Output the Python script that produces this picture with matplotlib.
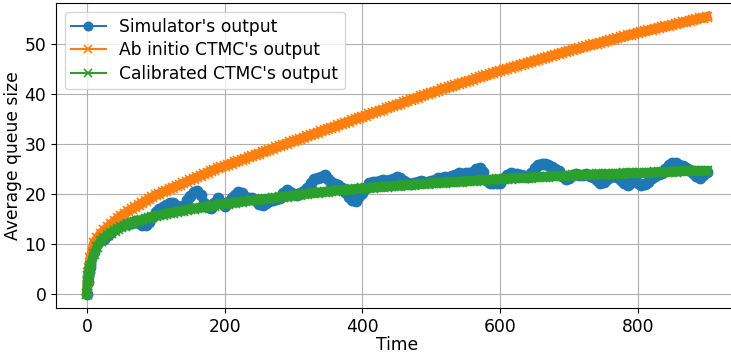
import matplotlib
matplotlib.use('Agg')
import matplotlib.pyplot as plt
import numpy as np

# sampling instants (fine steps at the start, then every 5 time units)
time = np.concatenate([[0, 1, 2, 3, 4], np.arange(5, 905, 5)])

# average queue size measured by the simulator
simulator = [
    0.0, 2.5, 3.5, 4.5, 5.5,
    6.0, 8.5, 10.2, 10.8, 11.0, 11.8, 12.5, 13.0, 13.5, 13.8,
    14.0, 14.1, 14.3, 14.6, 14.2, 13.9, 13.8, 14.5, 15.5, 16.5,
    17.0, 17.5, 17.9, 18.3, 18.3, 17.6, 17.2, 17.6, 18.8, 19.6,
    20.4, 20.6, 19.8, 18.2, 17.4, 17.3, 18.2, 19.2, 18.3, 17.6,
    18.5, 19.3, 19.8, 20.5, 20.2, 19.4, 19.2, 19.3, 18.8, 18.0,
    17.8, 18.2, 18.6, 18.9, 19.0, 19.3, 20.2, 20.8, 20.5, 20.0,
    19.9, 20.2, 20.6, 21.2, 22.3, 23.0, 23.2, 23.4, 23.9, 23.0,
    22.4, 22.1, 21.8, 21.2, 20.4, 19.5, 18.9, 18.6, 19.6, 20.3,
    21.3, 22.2, 22.5, 22.4, 22.6, 22.8, 22.7, 22.9, 23.0, 23.4,
    23.3, 22.6, 22.2, 22.1, 22.3, 22.4, 22.6, 22.5, 22.4, 22.6,
    22.8, 23.2, 23.3, 23.4, 23.5, 23.6, 23.9, 24.2, 24.1, 24.2,
    24.3, 24.4, 25.0, 25.3, 24.4, 22.9, 22.3, 22.3, 22.2, 22.3,
    23.2, 23.9, 24.2, 24.1, 24.0, 23.8, 23.6, 23.4, 24.2, 25.3,
    25.9, 26.1, 26.0, 25.8, 25.4, 25.1, 24.6, 23.6, 23.0, 23.3,
    23.9, 24.0, 23.8, 23.9, 24.0, 23.7, 23.4, 22.8, 22.2, 22.4,
    23.0, 23.5, 23.6, 23.4, 22.9, 22.2, 21.9, 22.5, 23.0, 22.3,
    21.9, 22.0, 22.4, 23.2, 23.6, 24.0, 24.3, 25.0, 25.9, 26.3,
    26.2, 25.9, 25.6, 25.2, 24.8, 24.3, 23.6, 23.2, 23.8, 24.4,
]

# ab initio CTMC prediction
ab_initio = [
    0.0, 3.0, 4.2, 5.2, 6.2,
    7.2, 10.2, 11.2, 12.1, 12.8, 13.4, 14.0, 14.6, 15.2, 15.7,
    16.1, 16.6, 17.0, 17.4, 17.8, 18.2, 18.6, 19.0, 19.4, 19.8,
    20.1, 20.4, 20.7, 21.0, 21.3, 21.6, 21.9, 22.2, 22.5, 22.8,
    23.1, 23.4, 23.7, 24.0, 24.3, 24.6, 24.9, 25.2, 25.4, 25.6,
    25.9, 26.1, 26.4, 26.6, 26.9, 27.1, 27.4, 27.6, 27.9, 28.1,
    28.4, 28.6, 28.9, 29.1, 29.4, 29.6, 29.9, 30.1, 30.4, 30.6,
    30.8, 31.1, 31.3, 31.6, 31.8, 32.1, 32.3, 32.6, 32.8, 33.1,
    33.3, 33.5, 33.8, 34.0, 34.3, 34.5, 34.8, 35.0, 35.3, 35.5,
    35.7, 36.0, 36.2, 36.5, 36.7, 36.9, 37.2, 37.4, 37.7, 37.9,
    38.1, 38.4, 38.6, 38.9, 39.1, 39.3, 39.6, 39.8, 40.1, 40.3,
    40.5, 40.7, 41.0, 41.2, 41.4, 41.6, 41.8, 42.1, 42.3, 42.5,
    42.7, 42.9, 43.2, 43.4, 43.6, 43.8, 44.0, 44.3, 44.5, 44.7,
    44.9, 45.1, 45.3, 45.5, 45.7, 45.9, 46.1, 46.3, 46.5, 46.7,
    46.9, 47.1, 47.3, 47.5, 47.7, 47.9, 48.1, 48.3, 48.5, 48.7,
    48.9, 49.1, 49.2, 49.4, 49.6, 49.8, 50.0, 50.1, 50.3, 50.5,
    50.7, 50.9, 51.0, 51.2, 51.4, 51.6, 51.8, 51.9, 52.1, 52.3,
    52.5, 52.6, 52.8, 52.9, 53.1, 53.3, 53.4, 53.6, 53.7, 53.9,
    54.1, 54.2, 54.4, 54.5, 54.7, 54.9, 55.0, 55.2, 55.3, 55.5,
]

# calibrated CTMC prediction
calibrated = [
    0.0, 2.6, 3.6, 4.4, 5.0,
    5.6, 8.0, 9.5, 10.6, 11.3, 11.8, 12.3, 12.7, 13.1, 13.4,
    13.7, 14.0, 14.3, 14.5, 14.7, 14.9, 15.1, 15.3, 15.5, 15.6,
    15.8, 15.9, 16.1, 16.2, 16.3, 16.5, 16.6, 16.7, 16.9, 17.0,
    17.1, 17.2, 17.3, 17.4, 17.5, 17.6, 17.7, 17.9, 18.0, 18.1,
    18.1, 18.2, 18.3, 18.4, 18.5, 18.6, 18.7, 18.8, 18.8, 18.9,
    19.0, 19.1, 19.1, 19.2, 19.3, 19.4, 19.4, 19.5, 19.6, 19.7,
    19.8, 19.9, 20.0, 20.1, 20.2, 20.2, 20.3, 20.4, 20.4, 20.5,
    20.6, 20.7, 20.8, 20.8, 20.9, 20.9, 21.0, 21.0, 21.1, 21.2,
    21.2, 21.3, 21.3, 21.4, 21.4, 21.5, 21.5, 21.6, 21.6, 21.7,
    21.7, 21.8, 21.8, 21.9, 21.9, 22.0, 22.0, 22.1, 22.1, 22.2,
    22.2, 22.3, 22.3, 22.3, 22.4, 22.4, 22.5, 22.5, 22.5, 22.6,
    22.6, 22.7, 22.7, 22.8, 22.8, 22.8, 22.9, 22.9, 23.0, 23.0,
    23.0, 23.1, 23.1, 23.2, 23.2, 23.2, 23.3, 23.3, 23.3, 23.4,
    23.4, 23.5, 23.5, 23.5, 23.6, 23.6, 23.6, 23.7, 23.7, 23.7,
    23.8, 23.8, 23.8, 23.9, 23.9, 23.9, 23.9, 24.0, 24.0, 24.0,
    24.0, 24.0, 24.1, 24.1, 24.1, 24.2, 24.2, 24.2, 24.2, 24.2,
    24.2, 24.3, 24.3, 24.3, 24.4, 24.4, 24.4, 24.4, 24.5, 24.5,
    24.5, 24.6, 24.6, 24.6, 24.6, 24.6, 24.7, 24.7, 24.7, 24.7,
]

plt.rcParams.update({
    'font.size': 12.3,
    'axes.labelsize': 12.3,
    'xtick.labelsize': 12.3,
    'ytick.labelsize': 12.3,
    'legend.fontsize': 12.3,
    'lines.markersize': 7.5,
})

fig = plt.figure(figsize=(7.31, 3.54), dpi=100)
# the axes run a little past the right edge of the figure
ax = fig.add_axes([0.0766, 0.130, 0.9327, 0.8616])

# dense samples: the markers merge into a solid band
ax.plot(time, simulator, marker='o', linewidth=5,
        label="Simulator's output")
ax.plot(time, ab_initio, marker='x', markersize=7, markeredgewidth=1.2,
        linewidth=7, label="Ab initio CTMC's output")
ax.plot(time, calibrated, marker='x', markersize=7, markeredgewidth=1.2,
        linewidth=7, label="Calibrated CTMC's output")

ax.set_xlabel('Time', labelpad=0)
ax.set_ylabel('Average queue size', labelpad=2)
ax.grid(True)

leg = ax.legend(loc='upper left', labelspacing=0.3, markerscale=0.8)
for h in leg.legend_handles:
    h.set_markeredgewidth(1.2)
    h.set_linewidth(1.5)

fig.savefig('out.png', dpi=100)
